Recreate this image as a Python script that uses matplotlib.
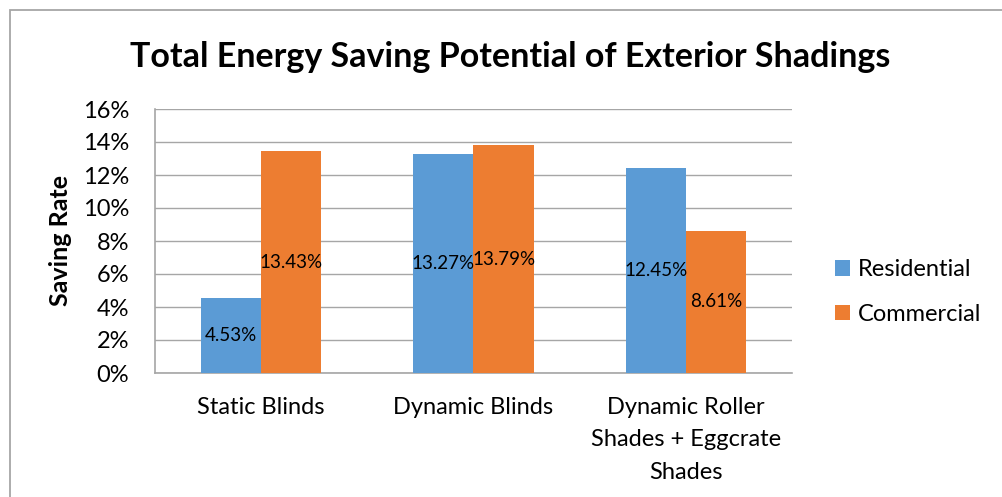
import matplotlib
matplotlib.use("Agg")
import matplotlib.pyplot as plt
import numpy as np
from matplotlib.patches import Rectangle

categories = ["Static Blinds", "Dynamic Blinds", "Dynamic Roller\nShades + Eggcrate\nShades"]
series_names = ["Residential", "Commercial"]
residential = [4.53, 13.27, 12.45]
commercial = [13.43, 13.79, 8.61]
yticks = [0, 2, 4, 6, 8, 10, 12, 14, 16]
colors = ["#5b9bd5", "#ed7d31"]

plt.rcParams['font.family'] = ['Lato', 'DejaVu Sans']

fig = plt.figure(figsize=(10.02, 4.97), dpi=100)
W, H = 1002, 497
# outer border
fig.patches.append(Rectangle((10 / W, -0.1), 1.2, (H - 10) / H + 0.1, transform=fig.transFigure,
                             fill=False, edgecolor="#a6a6a6", linewidth=1.3))

ax = fig.add_axes([155 / W, 1 - 373 / H, (792 - 155) / W, (373 - 109) / H])
x = np.arange(len(categories))
bw = 0.283
for i, (vals, name) in enumerate([(residential, series_names[0]), (commercial, series_names[1])]):
    pos = x + (i - 0.5) * bw
    ax.bar(pos, vals, width=bw, color=colors[i], label=name, zorder=3)
    for p, v in zip(pos, vals):
        ax.text(p, v / 2, f"{v:.2f}%", ha="center", va="center", fontsize=13.5, color="black", zorder=4)

ax.set_xlim(-0.5, 2.5)
ax.set_ylim(0, 16)
ax.set_yticks(yticks)
ax.set_yticklabels([f"{t}%" for t in yticks], fontsize=17)
ax.set_xticks(x)
ax.set_xticklabels(categories, fontsize=17, linespacing=1.68)
ax.tick_params(axis="both", length=0)
ax.tick_params(axis="y", pad=18.5)
ax.tick_params(axis="x", pad=17)
ax.grid(axis="y", color="#a6a6a6", linewidth=1, zorder=0)
for s in ["top", "right"]:
    ax.spines[s].set_visible(False)
for s in ["left", "bottom"]:
    ax.spines[s].set_color("#a6a6a6")
    ax.spines[s].set_linewidth(1.2)
ax.set_ylabel("Saving Rate", fontsize=18, fontweight="bold", labelpad=8)

fig.text(510 / W, 1 - 57 / H, "Total Energy Saving Potential of Exterior Shadings", ha="center", va="center",
         fontsize=24.5, fontweight="bold")

ax.legend(loc="center left", bbox_to_anchor=(814 / W, 1 - 292 / H), bbox_transform=fig.transFigure,
          frameon=False, fontsize=17, handlelength=0.62, handleheight=0.62, labelspacing=1.0,
          handletextpad=0.35)

fig.savefig("out.png", dpi=100)
